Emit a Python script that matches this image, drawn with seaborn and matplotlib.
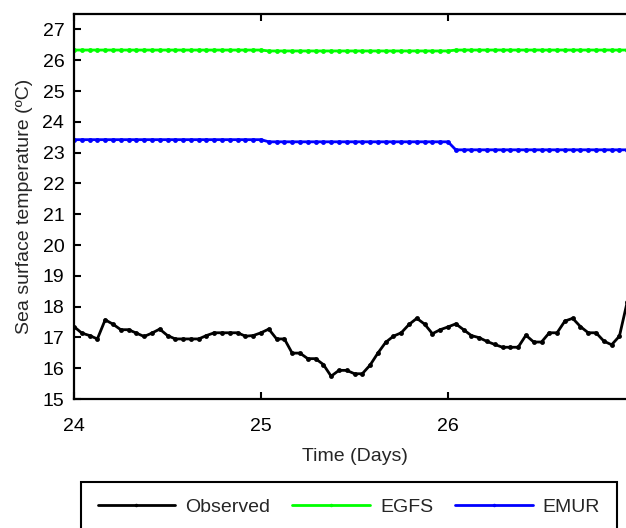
import matplotlib
matplotlib.use("Agg")
import matplotlib.pyplot as plt
import seaborn as sns
import numpy as np
import pandas as pd
from matplotlib.lines import Line2D

# ---- data (hourly values, days 24..27) ----
hours = list(range(72))
observed = [17.35, 17.14, 17.06, 16.95, 17.57, 17.43, 17.25, 17.25, 17.14, 17.03,
            17.14, 17.27, 17.06, 16.95, 16.95, 16.95, 16.95, 17.06, 17.15, 17.15,
            17.15, 17.15, 17.04, 17.06, 17.15, 17.27, 16.95, 16.95, 16.49, 16.49,
            16.31, 16.31, 16.12, 15.74, 15.93, 15.93, 15.82, 15.82, 16.10, 16.49,
            16.84, 17.04, 17.15, 17.42, 17.62, 17.43, 17.12, 17.25, 17.34, 17.44,
            17.25, 17.06, 16.99, 16.87, 16.77, 16.68, 16.68, 16.68, 17.07, 16.85,
            16.85, 17.15, 17.15, 17.53, 17.62, 17.35, 17.15, 17.15, 16.88, 16.76,
            17.04, 18.15]
egfs = [26.33] * 25 + [26.30] * 24 + [26.33] * 23
emur = [23.42] * 25 + [23.35] * 24 + [23.09] * 23
series_names = ["Observed", "EGFS", "EMUR"]
series_colors = ["#000000", "#00ff00", "#0000ff"]
xticks = [24, 25, 26]
yticks = list(range(15, 28))

days = [24 + h / 24 for h in hours]
df = pd.DataFrame({"day": days, "Observed": observed, "EGFS": egfs, "EMUR": emur})

sns.set_style("white")
plt.rcParams["font.family"] = ["Liberation Sans", "DejaVu Sans"]

W, H = 626, 528
fig = plt.figure(figsize=(W / 100, H / 100), dpi=100)
ax = fig.add_axes([74 / W, 1 - 399 / H, 561 / W, 385 / H])

for name, col in zip(series_names, series_colors):
    sns.lineplot(data=df, x="day", y=name, ax=ax, color=col, linewidth=2.0,
                 marker=".", markersize=7, markeredgewidth=0, legend=False)

ax.set_xlim(24, 27)
ax.set_ylim(15, 27.5)
ax.set_xticks(xticks)
ax.set_yticks(yticks)
ax.set_xticklabels([str(t) for t in xticks])
ax.set_yticklabels([str(t) for t in yticks])

fs = 14
ax.tick_params(axis="both", direction="in", length=5, width=1.5, colors="black",
               labelsize=fs, top=True, right=True, bottom=True, left=True)
ax.tick_params(axis="x", pad=14)
ax.tick_params(axis="y", pad=7)
for s in ax.spines.values():
    s.set_linewidth(1.6)
    s.set_color("black")
    s.set_visible(True)

ax.set_xlabel("Time (Days)", fontsize=fs, labelpad=9)
ax.set_ylabel("Sea surface temperature (ºC)", fontsize=fs, labelpad=7)

handles = [Line2D([0], [0], color=c, linewidth=2.0, marker=".", markersize=5, markeredgewidth=0)
           for c in series_colors]
leg = fig.legend(handles, series_names, loc="upper left",
                 bbox_to_anchor=(81 / W, 1 - 482 / H), ncol=3, fontsize=fs,
                 frameon=True, fancybox=False, shadow=False, framealpha=1,
                 handlelength=4.0, handletextpad=0.5, columnspacing=1.15,
                 borderpad=0.85, borderaxespad=0)
leg.get_frame().set_edgecolor("black")
leg.get_frame().set_linewidth(1.5)

fig.savefig("out.png", dpi=100)
